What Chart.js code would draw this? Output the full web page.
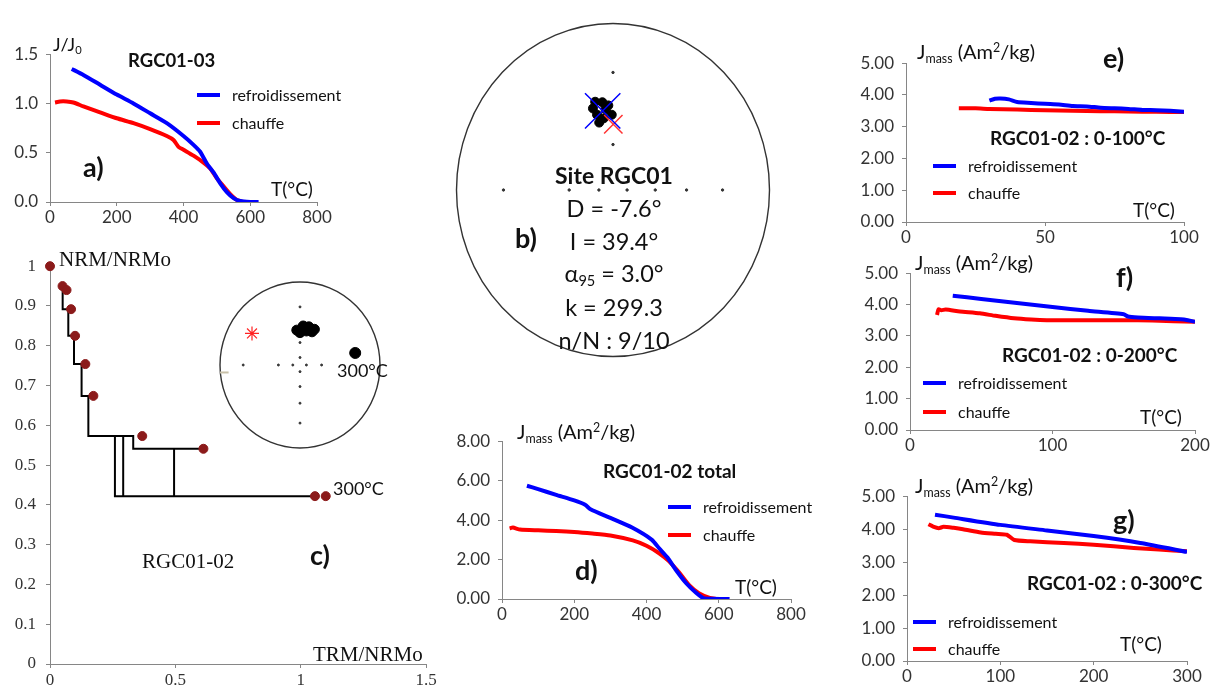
<!DOCTYPE html>
<html><head><meta charset="utf-8">
<script src="https://cdn.jsdelivr.net/npm/chart.js@4"></script>
<style>
body{margin:0;background:#fff;width:1217px;height:689px;overflow:hidden;position:relative;font-family:Lato,"Open Sans",sans-serif;color:#111}
canvas{position:absolute;z-index:1}
.t{position:absolute;white-space:nowrap;line-height:1;transform:translateY(-50%);z-index:2}
.c{transform:translate(-50%,-50%)}
.b{font-weight:bold}
.s{font-family:"Liberation Serif","Times New Roman",serif}
.k{position:absolute;height:4px;z-index:2}
sub{font-size:0.62em;vertical-align:-0.3em}
sup{font-size:0.62em;vertical-align:0.55em}
</style></head><body>
<script>
/* SERIES */
const names=['refroidissement','chauffe']
const blue='#0000ff', red='#ff0000', dot='#8b1a1a'

/* a) RGC01-03, J/J0 */
const aCoolT=[65,100,150,200,250,300,350,400,430,450,470,490,510,530,550,570,600,625]
const aCoolJ=[1.35,1.29,1.19,1.09,1.00,0.90,0.80,0.67,0.58,0.51,0.39,0.30,0.19,0.10,0.04,0.01,0,0]
const aHeatT=[15,30,50,70,100,150,200,250,300,350,370,385,400,430,460,480,500,520,540,560,580]
const aHeatJ=[1.01,1.02,1.02,1.01,0.97,0.91,0.85,0.80,0.74,0.67,0.63,0.56,0.53,0.47,0.40,0.34,0.24,0.16,0.08,0.02,0]

/* d) RGC01-02 total */
const dCoolT=[69,100,150,200,230,245,300,360,415,435,458,482,510,538,557,580,630]
const dCoolJ=[5.74,5.57,5.28,5.0,4.78,4.55,4.11,3.62,3.0,2.57,2.1,1.46,0.8,0.3,0.05,0.01,0]
const dHeatT=[21,30,50,100,150,200,250,300,362,400,435,462,490,518,545,575,595]
const dHeatJ=[3.58,3.62,3.52,3.48,3.45,3.4,3.32,3.22,2.97,2.7,2.32,1.92,1.35,0.7,0.29,0.05,0]

/* e) 0-100 */
const eCoolT=[30,32,34,37,40,45,50,55,60,65,70,75,80,85,90,95,100]
const eCoolJ=[3.82,3.88,3.89,3.86,3.78,3.75,3.72,3.7,3.65,3.64,3.6,3.58,3.56,3.53,3.52,3.5,3.47]
const eHeatT=[19,25,30,40,50,60,70,80,90,100]
const eHeatJ=[3.58,3.58,3.56,3.54,3.52,3.5,3.49,3.48,3.47,3.46]

/* f) 0-200 */
const fCoolT=[30,50,75,100,125,150,153,160,175,190,195,200]
const fCoolJ=[4.28,4.18,4.05,3.92,3.8,3.69,3.62,3.59,3.56,3.53,3.5,3.45]
const fHeatT=[19,20,22,25,35,49,60,73,85,96,120,150,170,200]
const fHeatJ=[3.67,3.85,3.82,3.84,3.78,3.72,3.64,3.56,3.52,3.5,3.5,3.5,3.49,3.45]

/* g) 0-300 */
const gCoolT=[30,50,100,150,200,250,300]
const gCoolJ=[4.44,4.35,4.13,3.96,3.79,3.58,3.31]
const gHeatT=[23,28,34,39,50,60,79,95,107,115,132,168,200,243,270,300]
const gHeatJ=[4.15,4.08,4.03,4.07,4.04,4.0,3.9,3.86,3.83,3.67,3.63,3.58,3.53,3.43,3.38,3.33]

/* c) Arai plot */
const araiTRM=[0,0.05,0.066,0.084,0.1,0.141,0.173,0.368,0.612,1.057,1.1]
const araiNRM=[1.0,0.95,0.94,0.892,0.825,0.754,0.674,0.573,0.541,0.422,0.422]
const stepX=[[0.0505,0.0505,0.073,0.073,0.0957,0.0957,0.126,0.126,0.153,0.153,0.332,0.332,0.612],[0.259,0.259,1.057],[0.292,0.292],[0.495,0.495]]
const stepY=[[0.949,0.8915,0.8915,0.825,0.825,0.754,0.754,0.674,0.674,0.573,0.573,0.541,0.541],[0.573,0.422,0.422],[0.573,0.422],[0.541,0.422]]

/* c) inset net, projected coords */
const cNetX=[0,0,0,0,0,0,0,-0.71,-0.27,-0.09,0.08,0.27]
const cNetY=[0.70,0.27,0.09,-0.08,-0.26,-0.46,-0.70,0,0,0,0,0]
const cDirX=[-0.04,0.04,0.11,0.18,0.0,0.08,0.15]
const cDirY=[0.42,0.47,0.46,0.43,0.39,0.41,0.40]
const c300=[0.69,0.145], cSite=[-0.60,0.38], cWest=[-0.98,-0.09]

/* b) site net */
const bNetX=[0,0,-0.70,-0.28,-0.09,0.09,0.27,0.47,0.70]
const bNetY=[0.706,0.273,0,0,0,0,0,0,0]
const bDirX=[-0.068,-0.128,-0.008,-0.088,-0.048,-0.102,-0.03,-0.06,-0.114]
const bDirY=[0.527,0.49,0.452,0.405,0.486,0.452,0.508,0.43,0.53]
const bMean=[-0.066,0.475], bRef=[0.002,0.395]
const bStats=['D = -7.6°','I = 39.4°','α<sub>95</sub> = 3.0°','k = 299.3','n/N : 9/10']

/* HELPERS */
const pts=(xs,ys)=>xs.map((x,i)=>({x,y:ys[i]}))
const sans='Lato, "Open Sans", sans-serif', serif='"Liberation Serif", "Times New Roman", serif'

function box(r,p){
let c=document.createElement('canvas')
let w=r[2]-r[0]+p[0]+p[2], h=r[3]-r[1]+p[1]+p[3]
c.width=w;c.height=h
c.style.left=(r[0]-p[0])+'px';c.style.top=(r[1]-p[1])+'px'
c.style.width=w+'px';c.style.height=h+'px'
document.body.appendChild(c)
return c
}

function axis(min,max,step,fmt,size,pad,fam){
return {type:'linear',min,max,
ticks:{stepSize:step,callback:fmt,font:{size:17,family:fam},color:'#333',padding:pad},
grid:{drawOnChartArea:false,tickLength:4,color:'#868686'},
border:{color:'#868686'},
afterFit:s=>{if(s.isHorizontal())s.height=size;else s.width=size}}
}

const base=p=>({responsive:false,animation:false,events:[],
layout:{padding:{left:0,top:p[1],right:p[2],bottom:0}},
plugins:{legend:{display:false},tooltip:{enabled:false}}})

function curves(r,p,xMax,xStep,yMax,yStep,dec,cool,heat){
let o=base(p)
o.scales={x:axis(0,xMax,xStep,v=>v,p[3],1,sans),y:axis(0,yMax,yStep,v=>v.toFixed(dec),p[0],8,sans)}
new Chart(box(r,p),{type:'scatter',data:{datasets:[
{label:names[0],data:cool,showLine:true,borderColor:blue,borderWidth:4,pointRadius:0,tension:0.2},
{label:names[1],data:heat,showLine:true,borderColor:red,borderWidth:4,pointRadius:0,tension:0.2}]},options:o})
}

const rim={id:'rim',beforeDatasetsDraw(ch){
const {ctx,scales:{x,y}}=ch
const cx=x.getPixelForValue(0),cy=y.getPixelForValue(0)
ctx.save();ctx.beginPath()
ctx.ellipse(cx,cy,x.getPixelForValue(1)-cx,cy-y.getPixelForValue(1),0,0,Math.PI*2)
ctx.strokeStyle='#333';ctx.lineWidth=1.4;ctx.stroke();ctx.restore()}}

function net(r,sets){
const m=16
new Chart(box(r,[m,m,m,m]),{type:'scatter',data:{datasets:sets},
options:{responsive:false,animation:false,events:[],layout:{padding:m},
plugins:{legend:{display:false},tooltip:{enabled:false}},
scales:{x:{display:false,min:-1,max:1},y:{display:false,min:-1,max:1}}},plugins:[rim]})
}

function txt(html,x,y,size,cls){
let d=document.createElement('div')
d.className='t '+(cls||'')
d.style.left=x+'px';d.style.top=y+'px';d.style.fontSize=size+'px'
d.innerHTML=html
document.body.appendChild(d)
}
function key(x,y,col,label){
let k=document.createElement('div');k.className='k'
k.style.left=x+'px';k.style.top=(y-2)+'px';k.style.width='23px';k.style.background=col
document.body.appendChild(k)
txt(label,x+35,y,16)
}
const jmass='J<sub>mass</sub> (Am<sup>2</sup>/kg)'

/* CHARTS */
curves([50,48,317,202],[48,12,20,24],800,200,1.5,0.5,1,pts(aCoolT,aCoolJ),pts(aHeatT,aHeatJ))
curves([502,435,791,599],[56,12,20,24],800,200,8,2,2,pts(dCoolT,dCoolJ),pts(dHeatT,dHeatJ))
curves([906,57,1184,222],[56,12,16,24],100,50,5,1,2,pts(eCoolT,eCoolJ),pts(eHeatT,eHeatJ))
curves([910,267,1195,430],[56,12,16,24],200,100,5,1,2,pts(fCoolT,fCoolJ),pts(fHeatT,fHeatJ))
curves([907,490,1187,661],[56,12,16,28],300,100,5,1,2,pts(gCoolT,gCoolJ),pts(gHeatT,gHeatJ))

/* c) Arai */
let co=base([48,12,20,30])
const f1=v=>String(Math.round(v*10)/10)
co.scales={x:axis(0,1.5,0.5,f1,30,2,serif),y:axis(0,1,0.1,f1,48,10,serif)}
new Chart(box([50,258,426,664],[48,12,20,30]),{type:'scatter',data:{datasets:[
{data:pts(araiTRM,araiNRM),pointRadius:4.5,backgroundColor:dot,borderColor:dot,order:0,clip:false},
...stepX.map((xs,i)=>({data:pts(xs,stepY[i]),showLine:true,borderColor:'#000',borderWidth:2,pointRadius:0,order:1}))]},options:co})

net([220,282,380,448],[
{data:[{x:c300[0],y:c300[1]}],pointRadius:5.5,backgroundColor:'#000',borderColor:'#000'},
{data:pts(cDirX,cDirY),pointRadius:5,backgroundColor:'#000',borderColor:'#000'},
{data:[{x:cSite[0],y:cSite[1]}],pointStyle:'star',pointRadius:7,borderColor:'#f22',borderWidth:1.2},
{data:[{x:cWest[0],y:cWest[1]}],pointStyle:'line',pointRadius:7,borderColor:'#c8c0a8',borderWidth:2},
{data:pts(cNetX,cNetY),pointRadius:1,backgroundColor:'#333',borderColor:'#333'}])

net([446,13,780,367],[
{data:[{x:bMean[0],y:bMean[1]}],pointStyle:'crossRot',pointRadius:25,borderColor:blue,borderWidth:1.5},
{data:[{x:bRef[0],y:bRef[1]}],pointStyle:'crossRot',pointRadius:13,borderColor:'#f33',borderWidth:1.5},
{data:pts(bDirX,bDirY),pointRadius:4.5,backgroundColor:'#000',borderColor:'#000'},
{data:pts(bNetX,bNetY),pointRadius:1.2,backgroundColor:'#333',borderColor:'#333'}])

/* TEXT */
txt('J/J<sub>0</sub>',53,45,18)
txt('RGC01-03',128,60,18.5,'b')
key(197,95,blue,names[0]);key(197,123,red,names[1])
txt('a)',83,166,27,'b')
txt('T(°C)',271,188,19)

txt('Site RGC01',614,175,23,'b c')
bStats.forEach((s,i)=>txt(s,614,209+i*33,23.5,'c'))
txt('b)',526,237,27,'b c')

txt('NRM/NRMo',59,259,21,'s')
txt('TRM/NRMo',313,654,21,'s')
txt('RGC01-02',142,561,21,'s')
txt('c)',310,554,27,'b')
txt('300°C',333,488,18)
txt('300°C',337,370,18)

txt(jmass,517,433,20)
txt('RGC01-02 total',603,470,19,'b')
key(668,507,blue,names[0]);key(668,535,red,names[1])
txt('d)',575,569,27,'b')
txt('T(°C)',735,586,19)

txt(jmass,917,53,20)
txt('RGC01-02 : 0-100°C',990,137,19,'b')
key(933,166,blue,names[0]);key(933,193,red,names[1])
txt('e)',1103,57,27,'b')
txt('T(°C)',1133,209,19)

txt(jmass,915,264,20)
txt('RGC01-02 : 0-200°C',1002,354,19,'b')
key(923,383,blue,names[0]);key(923,412,red,names[1])
txt('f)',1116,276,27,'b')
txt('T(°C)',1140,416,19)

txt(jmass,915,487,20)
txt('RGC01-02 : 0-300°C',1027,582,19,'b')
key(913,622,blue,names[0]);key(913,649,red,names[1])
txt('g)',1113,519,27,'b')
txt('T(°C)',1120,643,19)
</script>
</body></html>
